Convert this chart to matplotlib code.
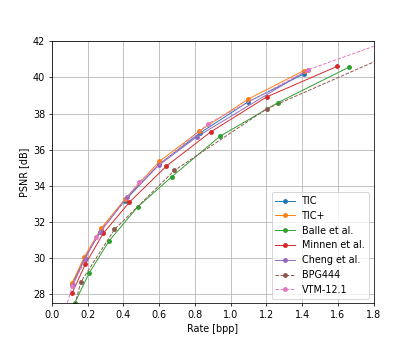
import matplotlib
matplotlib.use('Agg')
import matplotlib.pyplot as plt

# rate [bpp] / psnr [dB]
tic_rate = [0.113, 0.183, 0.275, 0.408, 0.600, 0.828, 1.097, 1.412]
tic_psnr = [28.55, 30.00, 31.55, 33.18, 35.20, 36.92, 38.64, 40.20]

ticp_rate = [0.112, 0.182, 0.277, 0.408, 0.601, 0.824, 1.097, 1.408]
ticp_psnr = [28.61, 30.09, 31.67, 33.26, 35.35, 37.02, 38.79, 40.37]

balle_rate = [0.129, 0.208, 0.320, 0.479, 0.670, 0.940, 1.262, 1.663]
balle_psnr = [27.55, 29.17, 30.96, 32.83, 34.50, 36.74, 38.59, 40.57]

minnen_rate = [0.112, 0.187, 0.287, 0.433, 0.640, 0.888, 1.202, 1.594]
minnen_psnr = [28.05, 29.67, 31.37, 33.09, 35.09, 36.98, 38.92, 40.60]

cheng_rate = [0.116, 0.184, 0.270, 0.420, 0.597, 0.809, 1.430]
cheng_psnr = [28.50, 29.98, 31.45, 33.37, 35.13, 36.70, 40.40]

bpg_rate = [0.115, 0.161, 0.350, 0.685, 1.202, 1.950]
bpg_psnr = [26.90, 28.67, 31.59, 34.85, 38.26, 41.50]

vtm_rate = [0.070, 0.114, 0.249, 0.490, 0.875, 1.434, 2.050]
vtm_psnr = [27.00, 28.45, 31.20, 34.24, 37.44, 40.42, 42.60]

fig = plt.figure(figsize=(6, 5), dpi=69.2)
ax = plt.gca()
plt.subplots_adjust(left=0.125, right=0.9, top=0.881, bottom=0.123)

lw = 1.0
ms = 4
ax.plot(tic_rate, tic_psnr, marker='o', lw=lw, ms=ms, label='TIC')
ax.plot(ticp_rate, ticp_psnr, marker='o', lw=lw, ms=ms, label='TIC+')
ax.plot(balle_rate, balle_psnr, marker='o', lw=lw, ms=ms, label='Balle et al.')
ax.plot(minnen_rate, minnen_psnr, marker='o', lw=lw, ms=ms, label='Minnen et al.')
ax.plot(cheng_rate, cheng_psnr, marker='o', lw=lw, ms=ms, label='Cheng et al.')
ax.plot(bpg_rate, bpg_psnr, marker='o', ls='--', lw=lw, ms=ms, label='BPG444')
ax.plot(vtm_rate, vtm_psnr, marker='o', ls='--', lw=lw, ms=ms, label='VTM-12.1')

ax.set_xlim(0, 1.8)
ax.set_ylim(27.5, 42)
ax.set_xticks([0.0, 0.2, 0.4, 0.6, 0.8, 1.0, 1.2, 1.4, 1.6, 1.8])
ax.set_yticks([28, 30, 32, 34, 36, 38, 40, 42])
ax.set_xlabel('Rate [bpp]')
ax.set_ylabel('PSNR [dB]')
ax.grid(True)
ax.legend(loc='lower right')

plt.savefig('out.png', dpi=69.2)
